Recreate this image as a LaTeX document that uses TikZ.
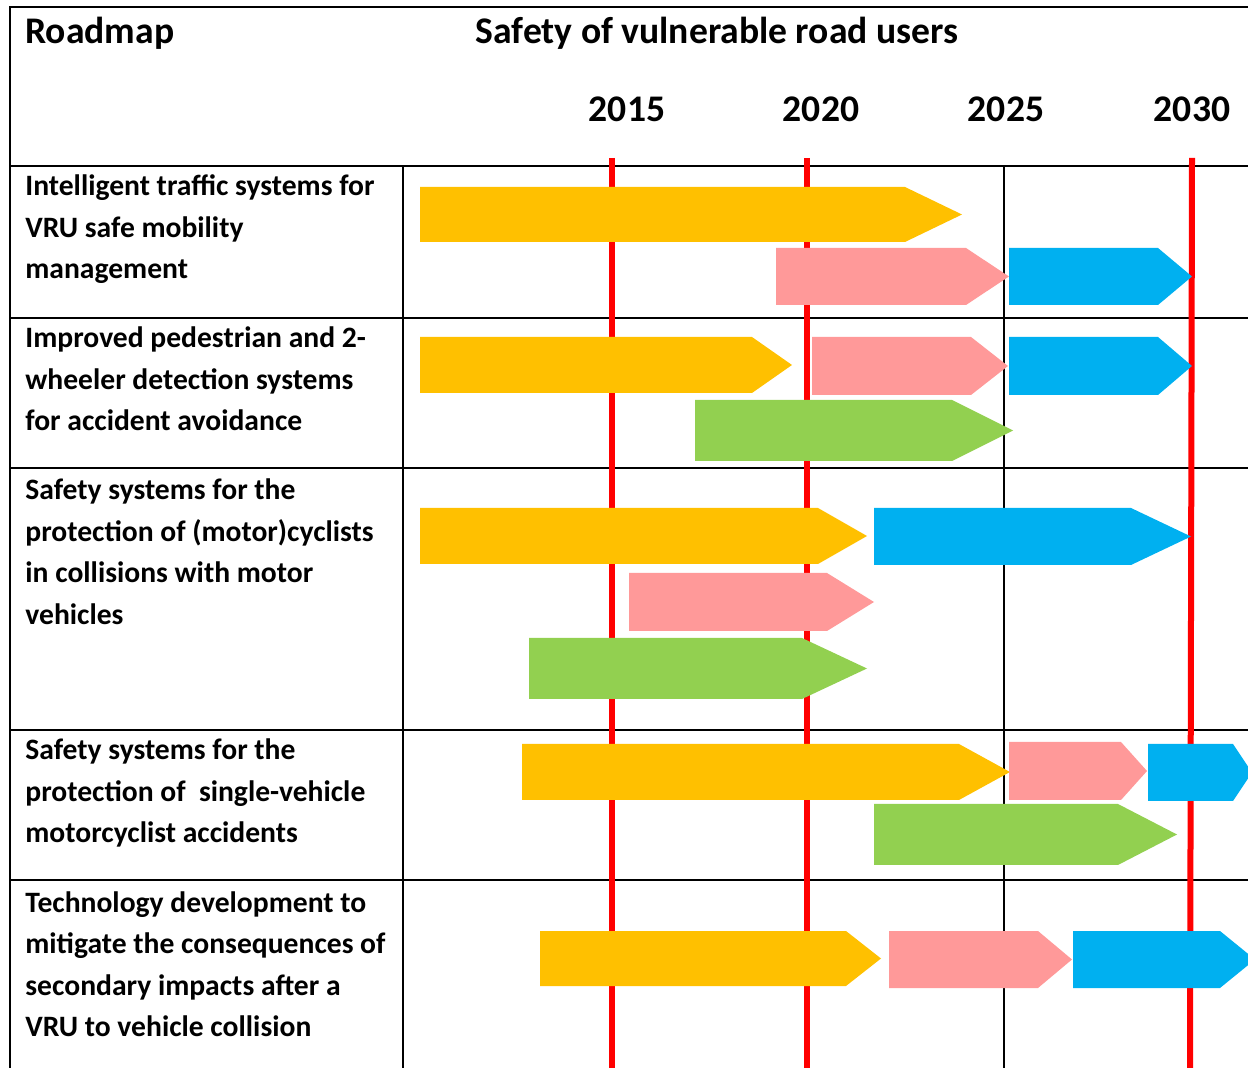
\documentclass[tikz,border=0pt]{standalone}
\usepackage{fontspec}
\setmainfont{Carlito}
\definecolor{amber}{HTML}{FFC000}
\definecolor{salmon}{HTML}{FF9999}
\definecolor{sky}{HTML}{00B0F0}
\definecolor{lime}{HTML}{92D050}
\definecolor{mark}{HTML}{FF0000}

\begin{document}
\begin{tikzpicture}[x=0.5pt, y=-0.5pt,
    grid/.style={line width=1pt},
    thin grid/.style={line width=0.65pt},
    year line/.style={draw=mark, line width=3pt},
    heading/.style={font=\fontsize{18.8}{22}\selectfont\bfseries, inner sep=0pt},
    year/.style={heading, anchor=base},
    topic/.style={font=\fontsize{14.8}{20.75}\selectfont\bfseries,
        align=left, anchor=base west, inner sep=0pt}
    ]
    \useasboundingbox (0,0) rectangle (1248,1068);
    % table
    \draw[grid] (1252,7) -- (10,7) -- (10,1072);
    \foreach \y in {166,318,468,730,880}
        \draw[grid] (10,\y) -- (1252,\y);
    \draw[line width=0.75pt] (403,166) -- (403,1072);
    \draw[thin grid] (1004,166) -- (1004,1072);
    % milestones
    \foreach \xa/\xb in {611.5/611.5, 806.5/806.5, 1192/1190}
        \draw[year line] (\xa,158) -- (\xb,1072);

    \node[heading, anchor=base west] (roadmap) at (25,44) {Roadmap};
    \node[heading, anchor=base] (title) at (717,44) {Safety of vulnerable road users};
    \foreach \x/\yr in {627/2015, 821/2020, 1006/2025, 1192/2030}
        \node[year] (y\yr) at (\x,122) {\yr};

    % topics (base = last line)
    \node[topic] (its) at (25,279) {Intelligent traffic systems for\\VRU safe mobility\\management};
    \node[topic] (detect) at (25,431) {Improved pedestrian and 2-\\wheeler detection systems\\for accident avoidance};
    \node[topic] (cyclist) at (25,624.5) {Safety systems for the\\protection of (motor)cyclists\\in collisions with motor\\vehicles};
    \node[topic] (single) at (25,843) {Safety systems for the\\protection of\ \ single-vehicle\\motorcyclist accidents};
    \node[topic] (impact) at (25,1036.5) {Technology development to\\mitigate the consequences of\\secondary impacts after a\\VRU to vehicle collision};

    % arrows: start / shoulder / tip / top / bottom / colour
    \foreach \xa/\xs/\xt/\ya/\yb/\c in {
        420/905/962/187/242/amber, 776/966/1009/248/305/salmon, 1009/1158/1192/248/305/sky,
        420/752/792/337/393/amber, 812/971/1008/337/395/salmon, 1009/1158/1192/337/395/sky,
        695/952/1013/400/461/lime,
        420/818/867/508/564/amber, 874/1131/1191/508/565/sky, 629/827/874/573/631/salmon,
        529/802/867/638/699/lime,
        522/959/1010/744/800/amber, 1009/1121/1147/742/800/salmon, 1148/1233/1252/744/801/sky,
        874/1118/1177/804/865/lime,
        540/846/881/931/986/amber, 889/1038/1072/931/988/salmon, 1073/1220/1255/931/988/sky}
        \fill[\c] (\xa,\ya) -- (\xs,\ya) -- (\xt,{(\ya+\yb)/2}) -- (\xs,\yb) -- (\xa,\yb) -- cycle;
\end{tikzpicture}
\end{document}
